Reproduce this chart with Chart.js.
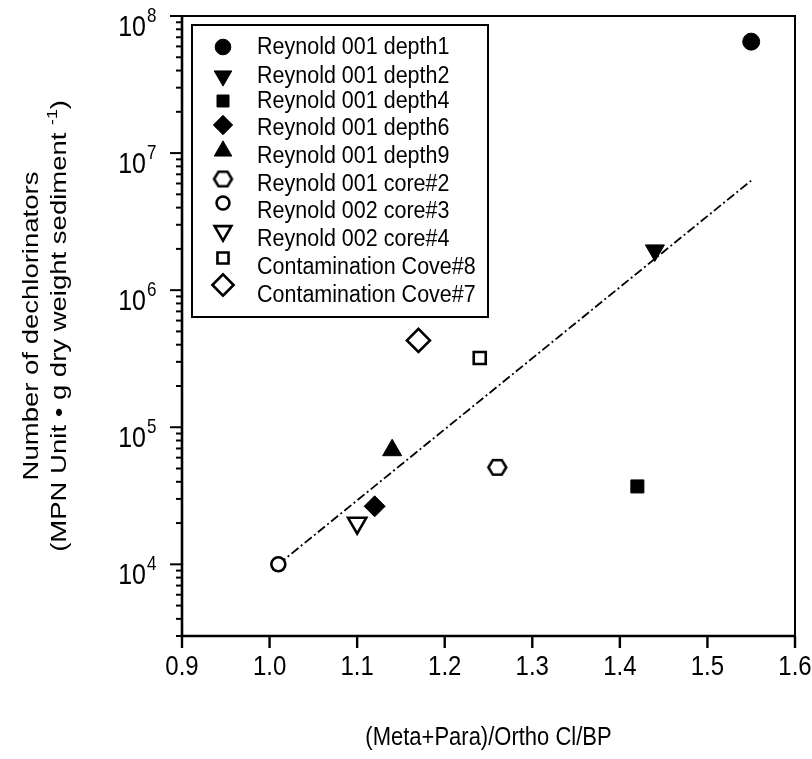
<!DOCTYPE html>
<html>
<head>
<meta charset="utf-8">
<script src="https://cdn.jsdelivr.net/npm/chart.js@4/dist/chart.umd.min.js"></script>
<style>
  html, body { margin: 0; padding: 0; background: #fff; }
  #wrap { width: 812px; height: 759px; }
</style>
</head>
<body>
<div id="wrap"><canvas id="c" width="812" height="759"></canvas></div>
<script>
// ---- data ----
const seriesNames = [
  "Reynold 001 depth1", "Reynold 001 depth2", "Reynold 001 depth4",
  "Reynold 001 depth6", "Reynold 001 depth9", "Reynold 001 core#2",
  "Reynold 002 core#3", "Reynold 002 core#4", "Contamination Cove#8",
  "Contamination Cove#7"
];
const xValues = [1.55, 1.44, 1.42, 1.12, 1.14, 1.26, 1.01, 1.10, 1.24, 1.17];
const yValues = [6.5e7, 1.95e6, 3.7e4, 2.65e4, 6.8e4, 5.1e4, 1.0e4, 2.0e4, 3.2e5, 4.3e5];
const fitX = [1.01, 1.55];
const fitY = [1.0e4, 6.3e6];
const xTickValues = [0.9, 1.0, 1.1, 1.2, 1.3, 1.4, 1.5, 1.6];
const xTickLabels = ["0.9", "1.0", "1.1", "1.2", "1.3", "1.4", "1.5", "1.6"];
const yTickExponents = [4, 5, 6, 7, 8];
const xTitle = "(Meta+Para)/Ortho Cl/BP";
const yTitleLine1 = "Number of dechlorinators";
const yTitleLine2 = ["(MPN Unit \u2022 g dry weight sediment ", "-1", ")"];

// ---- marker styles ----
function hexagon(size, lw) {
  const c = document.createElement('canvas');
  c.width = size; c.height = size;
  const g = c.getContext('2d');
  const cx = size / 2, cy = size / 2, r = size / 2 - lw;
  g.beginPath();
  for (let i = 0; i < 6; i++) {
    const a = Math.PI / 3 * i;
    const px = cx + r * Math.cos(a), py = cy + r * Math.sin(a) * 0.95;
    if (i === 0) g.moveTo(px, py); else g.lineTo(px, py);
  }
  g.closePath();
  g.fillStyle = '#fff'; g.fill();
  g.lineWidth = lw; g.strokeStyle = '#000'; g.stroke();
  return c;
}
const hex = hexagon(23, 2.6);
const styles = [
  { ps: 'circle',   r: 8.5, rot: 0,   fill: true },
  { ps: 'triangle', r: 11,  rot: 180, fill: true },
  { ps: 'rect',     r: 9.2, rot: 0,   fill: true },
  { ps: 'rectRot',  r: 10.5,rot: 0,   fill: true },
  { ps: 'triangle', r: 11,  rot: 0,   fill: true },
  { ps: hex,        r: 10,  rot: 0,   fill: false },
  { ps: 'circle',   r: 7,   rot: 0,   fill: false },
  { ps: 'triangle', r: 10.5,rot: 180, fill: false },
  { ps: 'rect',     r: 8.5, rot: 0,   fill: false },
  { ps: 'rectRot',  r: 11.5,rot: 0,   fill: false }
];

const datasets = seriesNames.map((name, i) => ({
  label: name,
  data: [{ x: xValues[i], y: yValues[i] }],
  pointStyle: styles[i].ps,
  pointRadius: styles[i].r,
  pointRotation: styles[i].rot,
  backgroundColor: styles[i].fill ? '#000' : '#fff',
  borderColor: '#000',
  borderWidth: styles[i].fill ? 1 : 2.6,
  order: 1
}));
datasets.push({
  label: 'fit',
  type: 'line',
  data: fitX.map((x, i) => ({ x: x, y: fitY[i] })),
  borderColor: '#000',
  borderWidth: 1.8,
  borderDash: [9, 3, 2, 3],
  pointRadius: 0,
  fill: false,
  order: 20
});

const FONT = '"Liberation Sans", Arial, Helvetica, sans-serif';
const STRETCH = 1.15;

function sText(ctx, txt, x, y, size, align, baseline, k) {
  ctx.save();
  ctx.translate(x, y);
  ctx.scale(1, k);
  ctx.font = size + 'px ' + FONT;
  ctx.textAlign = align; ctx.textBaseline = baseline;
  ctx.fillText(txt, 0, 0);
  ctx.restore();
}

const axesPlugin = {
  id: 'axesPlugin',
  afterDraw(chart) {
    const ctx = chart.ctx;
    const a = chart.chartArea;
    const xs = chart.scales.x, ys = chart.scales.y;
    ctx.save();
    ctx.strokeStyle = '#000';
    ctx.fillStyle = '#000';
    // frame
    ctx.lineWidth = 2;
    ctx.beginPath();
    ctx.moveTo(a.left, a.top); ctx.lineTo(a.right, a.top); ctx.lineTo(a.right, a.bottom);
    ctx.stroke();
    ctx.lineWidth = 2.6;
    ctx.beginPath();
    ctx.moveTo(a.left, a.top - 1); ctx.lineTo(a.left, a.bottom); ctx.lineTo(a.right + 1, a.bottom);
    ctx.stroke();
    // x ticks
    ctx.lineWidth = 2.4;
    xTickValues.forEach(v => {
      const px = xs.getPixelForValue(v);
      ctx.beginPath(); ctx.moveTo(px, a.bottom); ctx.lineTo(px, a.bottom + 12); ctx.stroke();
    });
    xTickValues.forEach((v, i) => {
      sText(ctx, xTickLabels[i], xs.getPixelForValue(v), 667, 24, 'center', 'middle', STRETCH);
    });
    // y ticks (major + minor)
    ctx.lineWidth = 2;
    const lo = ys.min, hi = ys.max;
    for (let e = Math.floor(Math.log10(lo)); e <= Math.ceil(Math.log10(hi)); e++) {
      for (let k = 1; k <= 9; k++) {
        const v = k * Math.pow(10, e);
        if (v < lo * 0.999 || v > hi * 1.001) continue;
        const py = ys.getPixelForValue(v);
        const len = k === 1 ? 12 : 6;
        ctx.beginPath(); ctx.moveTo(a.left - len, py); ctx.lineTo(a.left, py); ctx.stroke();
      }
    }
    yTickExponents.forEach(e => {
      const py = ys.getPixelForValue(Math.pow(10, e));
      sText(ctx, '10', 146, py + 20, 25, 'right', 'alphabetic', STRETCH);
      sText(ctx, String(e), 147, py + 6, 17, 'left', 'alphabetic', STRETCH);
    });
    // x axis title
    sText(ctx, xTitle, (a.left + a.right) / 2, 738, 22, 'center', 'middle', STRETCH);
    // y axis title (rotated, elongated along its length)
    const cy = (a.top + a.bottom) / 2;
    const L = 1.25;
    ctx.save();
    ctx.translate(32, cy);
    ctx.rotate(-Math.PI / 2);
    ctx.scale(L, 1);
    ctx.font = '22px ' + FONT;
    ctx.textAlign = 'center'; ctx.textBaseline = 'middle';
    ctx.fillText(yTitleLine1, 0, 0);
    ctx.restore();
    ctx.save();
    ctx.translate(60, cy);
    ctx.rotate(-Math.PI / 2);
    ctx.scale(L, 1);
    ctx.textBaseline = 'middle'; ctx.textAlign = 'left';
    ctx.font = '22px ' + FONT;
    const w1 = ctx.measureText(yTitleLine2[0]).width;
    const w3 = ctx.measureText(yTitleLine2[2]).width;
    ctx.font = '14px ' + FONT;
    const w2 = ctx.measureText(yTitleLine2[1]).width;
    const x0 = -(w1 + w2 + w3) / 2;
    ctx.font = '22px ' + FONT;
    ctx.fillText(yTitleLine2[0], x0, 0);
    ctx.font = '14px ' + FONT;
    ctx.fillText(yTitleLine2[1], x0 + w1, -7);
    ctx.font = '22px ' + FONT;
    ctx.fillText(yTitleLine2[2], x0 + w1 + w2, 0);
    ctx.restore();

    // legend box
    const bx = 192, by = 25, bw = 296, bh = 292;
    ctx.fillStyle = '#fff';
    ctx.fillRect(bx, by, bw, bh);
    ctx.lineWidth = 2;
    ctx.strokeStyle = '#000';
    ctx.strokeRect(bx, by, bw, bh);
    const symY = [47, 76, 101, 125, 151, 179, 203, 231, 258, 285];
    const txtY = [47, 76, 101, 128, 156, 184, 211, 239, 267, 295];
    seriesNames.forEach((name, i) => {
      const s = styles[i];
      ctx.fillStyle = s.fill ? '#000' : '#fff';
      ctx.strokeStyle = '#000';
      ctx.lineWidth = s.fill ? 1 : 2.6;
      Chart.helpers.drawPoint(ctx, {
        pointStyle: s.ps, radius: s.r * 0.92, rotation: s.rot,
        borderWidth: s.fill ? 1 : 2.6
      }, 223, symY[i]);
      ctx.fillStyle = '#000';
      sText(ctx, name, 257, txtY[i], 21.5, 'left', 'middle', STRETCH);
    });
    ctx.restore();
  }
};

new Chart(document.getElementById('c'), {
  type: 'scatter',
  data: { datasets: datasets },
  options: {
    responsive: false,
    devicePixelRatio: 1,
    animation: false,
    layout: { padding: { left: 182, right: 17, top: 16, bottom: 123 } },
    plugins: { legend: { display: false }, tooltip: { enabled: false } },
    scales: {
      x: { type: 'linear', min: 0.9, max: 1.6, display: false },
      y: { type: 'logarithmic', min: 3000, max: 1e8, display: false }
    }
  },
  plugins: [axesPlugin]
});
</script>
</body>
</html>
